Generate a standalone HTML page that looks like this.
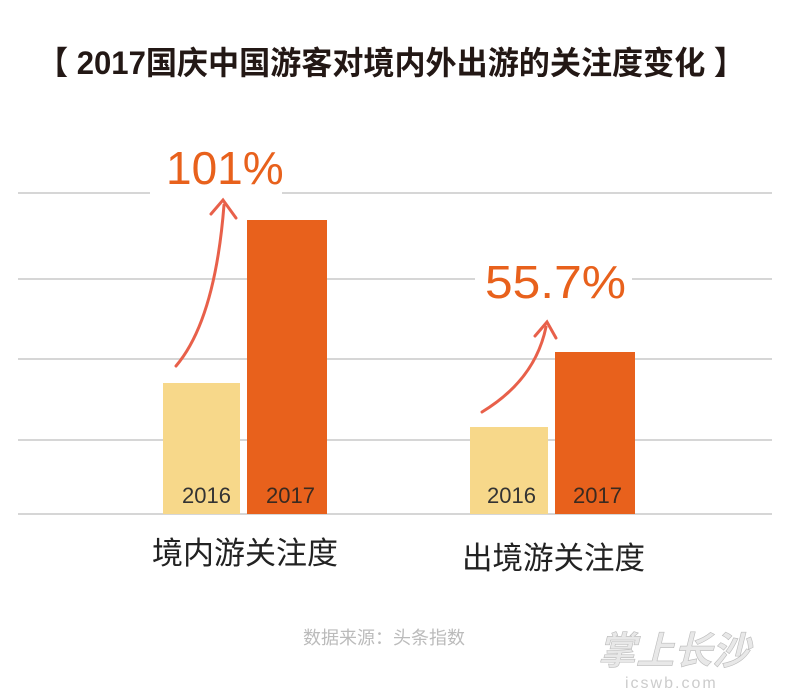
<!DOCTYPE html>
<html><head><meta charset="utf-8"><style>
html,body{margin:0;padding:0;background:#fff;width:800px;height:695px;overflow:hidden}
</style></head><body>
<svg width="800" height="695" xmlns="http://www.w3.org/2000/svg" font-family="Liberation Sans, Noto Sans CJK SC, sans-serif">
<text x="37" y="74" font-size="32" font-weight="bold" fill="#231815" textLength="708" lengthAdjust="spacingAndGlyphs">【 2017国庆中国游客对境内外出游的关注度变化 】</text>
<g stroke="#c8c8c8" stroke-width="1.5">
<line x1="18" y1="193" x2="150" y2="193"/><line x1="282" y1="193" x2="772" y2="193"/>
<line x1="18" y1="279" x2="475" y2="279"/><line x1="632" y1="279" x2="772" y2="279"/>
<line x1="18" y1="359" x2="772" y2="359"/>
<line x1="18" y1="440" x2="772" y2="440"/>
<line x1="18" y1="514" x2="772" y2="514"/>
</g>
<rect x="163" y="383" width="77" height="131" fill="#F7D88A"/>
<rect x="247" y="220" width="80" height="294" fill="#E8611C"/>
<rect x="470" y="427" width="78" height="87" fill="#F7D88A"/>
<rect x="555" y="352" width="80" height="162" fill="#E8611C"/>
<g font-size="22" fill="#333">
<text x="182" y="503">2016</text>
<text x="266" y="503" fill="#3a2a20">2017</text>
<text x="487" y="503">2016</text><text x="573" y="503" fill="#3a2a20">2017</text>
</g>
<text x="166" y="184" font-size="46" fill="#E8611C">101%</text>
<text x="485" y="298" font-size="46" fill="#E8611C" textLength="141" lengthAdjust="spacingAndGlyphs">55.7%</text>
<g fill="none" stroke="#E8604A" stroke-width="3" stroke-linecap="round">
<path d="M176 366 Q215 320 224 205"/><path d="M211 214 L223 200 L236 218"/>
<path d="M482 412 Q535 380 546 327"/><path d="M535 336 L547 322 L556 338"/>
</g>
<text x="152" y="564" font-size="31" fill="#222" textLength="186" lengthAdjust="spacingAndGlyphs">境内游关注度</text>
<text x="462" y="569" font-size="31" fill="#222" textLength="183" lengthAdjust="spacingAndGlyphs">出境游关注度</text>
<text x="303" y="644" font-size="18" fill="#bbb">数据来源：头条指数</text>
<text x="598" y="664" font-size="38" font-weight="bold" font-style="italic" fill="#e8e8e8" stroke="#bbb" stroke-width="0.6">掌上长沙</text>
<text x="625" y="688" font-size="16" fill="#ccc" letter-spacing="2">icswb.com</text>
</svg>
</body></html>
